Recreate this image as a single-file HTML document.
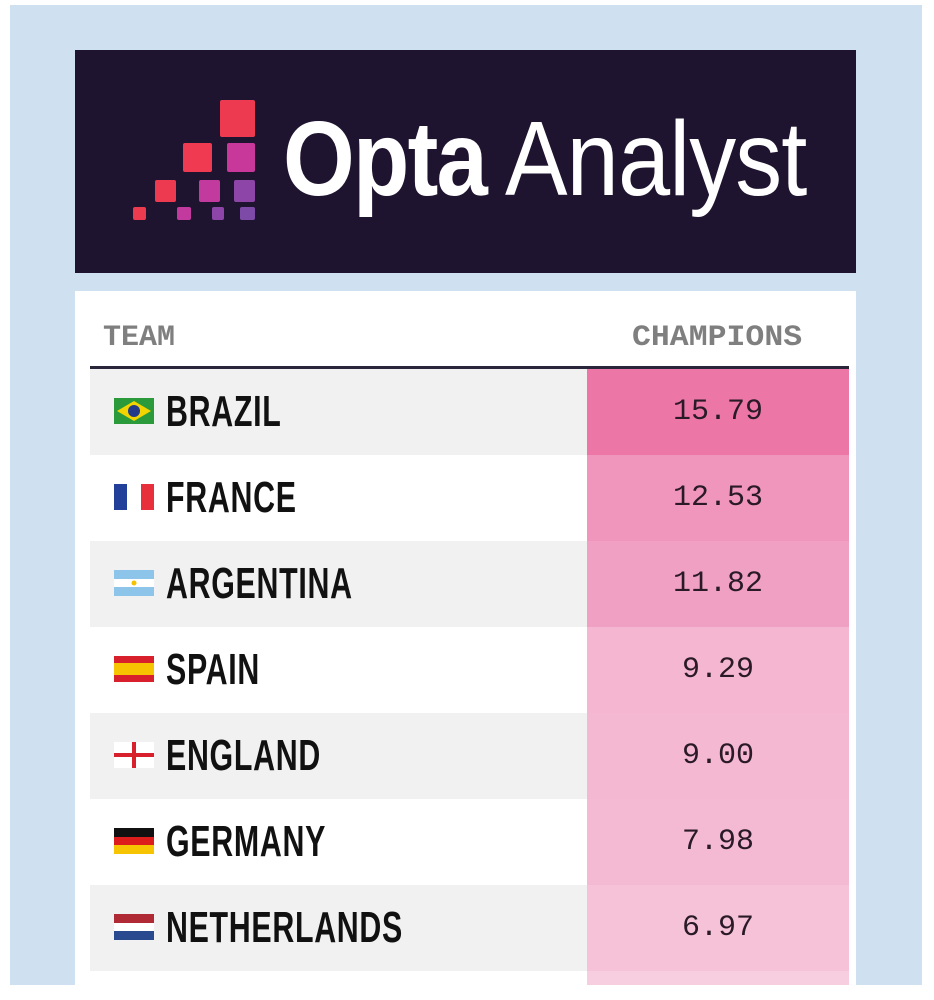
<!DOCTYPE html>
<html><head><style>
html,body{margin:0;padding:0;width:934px;height:1000px;background:#fff;overflow:hidden;position:relative;font-family:"Liberation Sans",sans-serif}
.bg{position:absolute;left:10px;top:5px;width:912px;height:980px;background:#cfe0f0}
.banner{position:absolute;left:75px;top:50px;width:781px;height:223px;background:#1f1430}
.sq{position:absolute;border-radius:2px}
.logo{position:absolute;top:106px;color:#fff;font-size:106px;line-height:1;white-space:nowrap}
.table{position:absolute;left:75px;top:291px;width:781px;height:694px;background:#fff}
.hd{position:absolute;top:321px;font-family:"Liberation Mono",monospace;font-weight:bold;font-size:30px;color:#7f7f7f}
.line{position:absolute;left:90px;top:366px;width:759px;height:3px;background:#2a2538}
.row{position:absolute;left:90px;width:497px;height:86px}
.val{position:absolute;left:587px;width:262px;height:86px;font-family:"Liberation Mono",monospace;font-size:30px;color:#2a1a28;text-align:center;line-height:86px}
.name{position:absolute;left:166px;font-weight:bold;font-size:44px;color:#111;transform:scaleX(0.69);transform-origin:left center;line-height:86px;letter-spacing:1px}
.flag{position:absolute;left:114px;width:40px;height:26px}
</style></head><body>
<div class="bg"></div>
<div class="banner"></div>
<div class="sq" style="left:220px;top:100px;width:35px;height:37px;background:#ee3a50"></div>
<div class="sq" style="left:183px;top:143px;width:29px;height:29px;background:#ef3a52"></div>
<div class="sq" style="left:227px;top:143px;width:28px;height:29px;background:#c8389a"></div>
<div class="sq" style="left:155px;top:180px;width:21px;height:22px;background:#ee3a50"></div>
<div class="sq" style="left:199px;top:180px;width:21px;height:22px;background:#c33a9e"></div>
<div class="sq" style="left:234px;top:180px;width:21px;height:22px;background:#8e45a8"></div>
<div class="sq" style="left:133px;top:207px;width:13px;height:13px;background:#ec3a4e"></div>
<div class="sq" style="left:177px;top:207px;width:14px;height:13px;background:#c23a9e"></div>
<div class="sq" style="left:212px;top:207px;width:12px;height:13px;background:#8e45a8"></div>
<div class="sq" style="left:240px;top:207px;width:15px;height:13px;background:#7e4aa8"></div>
<div class="logo" style="left:283px;font-weight:bold;letter-spacing:-2px;transform:scaleX(0.87);transform-origin:left">Opta</div>
<div class="logo" style="left:505px;font-weight:normal;letter-spacing:-1px;transform:scaleX(0.885);transform-origin:left">Analyst</div>
<div class="table"></div>
<div class="hd" style="left:103px;transform:scaleX(1.0);transform-origin:left">TEAM</div>
<div class="hd" style="left:632px;transform:scaleX(1.05);transform-origin:left">CHAMPIONS</div>
<div class="line"></div>

<div class="row" style="top:369px;background:#f1f1f1"></div>
<div class="val" style="top:369px;background:#ec77a7">15.79</div>
<svg class="flag" style="top:398px" viewBox="0 0 40 26"><rect width="40" height="26" fill="#2a9a3a"/><polygon points="20,3 37,13 20,23 3,13" fill="#f2d400"/><circle cx="20" cy="13" r="6" fill="#223a8a"/></svg>
<div class="name" style="top:369px">BRAZIL</div>

<div class="row" style="top:455px;background:#fff"></div>
<div class="val" style="top:455px;background:#f096bc">12.53</div>
<svg class="flag" style="top:484px" viewBox="0 0 40 26"><rect x="0" width="13" height="26" fill="#22409a"/><rect x="27" width="13" height="26" fill="#e8303c"/></svg>
<div class="name" style="top:455px">FRANCE</div>

<div class="row" style="top:541px;background:#f1f1f1"></div>
<div class="val" style="top:541px;background:#f0a0c3">11.82</div>
<svg class="flag" style="top:570px" viewBox="0 0 40 26"><rect width="40" height="26" fill="#8cc4ea"/><rect y="9" width="40" height="8" fill="#fff"/><circle cx="20" cy="13" r="2.5" fill="#f2c200"/></svg>
<div class="name" style="top:541px">ARGENTINA</div>

<div class="row" style="top:627px;background:#fff"></div>
<div class="val" style="top:627px;background:#f4b6d0">9.29</div>
<svg class="flag" style="top:656px" viewBox="0 0 40 26"><rect width="40" height="26" fill="#d8202c"/><rect y="7" width="40" height="12" fill="#f6c400"/></svg>
<div class="name" style="top:627px">SPAIN</div>

<div class="row" style="top:713px;background:#f1f1f1"></div>
<div class="val" style="top:713px;background:#f4b8d2">9.00</div>
<svg class="flag" style="top:742px" viewBox="0 0 40 26"><rect width="40" height="26" fill="#fff"/><rect y="11" width="40" height="4" fill="#d8202c"/><rect x="18" width="4" height="26" fill="#d8202c"/></svg>
<div class="name" style="top:713px">ENGLAND</div>

<div class="row" style="top:799px;background:#fff"></div>
<div class="val" style="top:799px;background:#f4bad3">7.98</div>
<svg class="flag" style="top:828px" viewBox="0 0 40 26"><rect width="40" height="9" fill="#111"/><rect y="9" width="40" height="8" fill="#dd1c1c"/><rect y="17" width="40" height="9" fill="#f6c400"/></svg>
<div class="name" style="top:799px">GERMANY</div>

<div class="row" style="top:885px;background:#f1f1f1"></div>
<div class="val" style="top:885px;background:#f5c2d8">6.97</div>
<svg class="flag" style="top:914px" viewBox="0 0 40 26"><rect width="40" height="9" fill="#b02a36"/><rect y="9" width="40" height="8" fill="#fff"/><rect y="17" width="40" height="9" fill="#2a4a90"/></svg>
<div class="name" style="top:885px">NETHERLANDS</div>

<div class="val" style="top:971px;height:14px;background:#f7cde0"></div>
</body></html>
